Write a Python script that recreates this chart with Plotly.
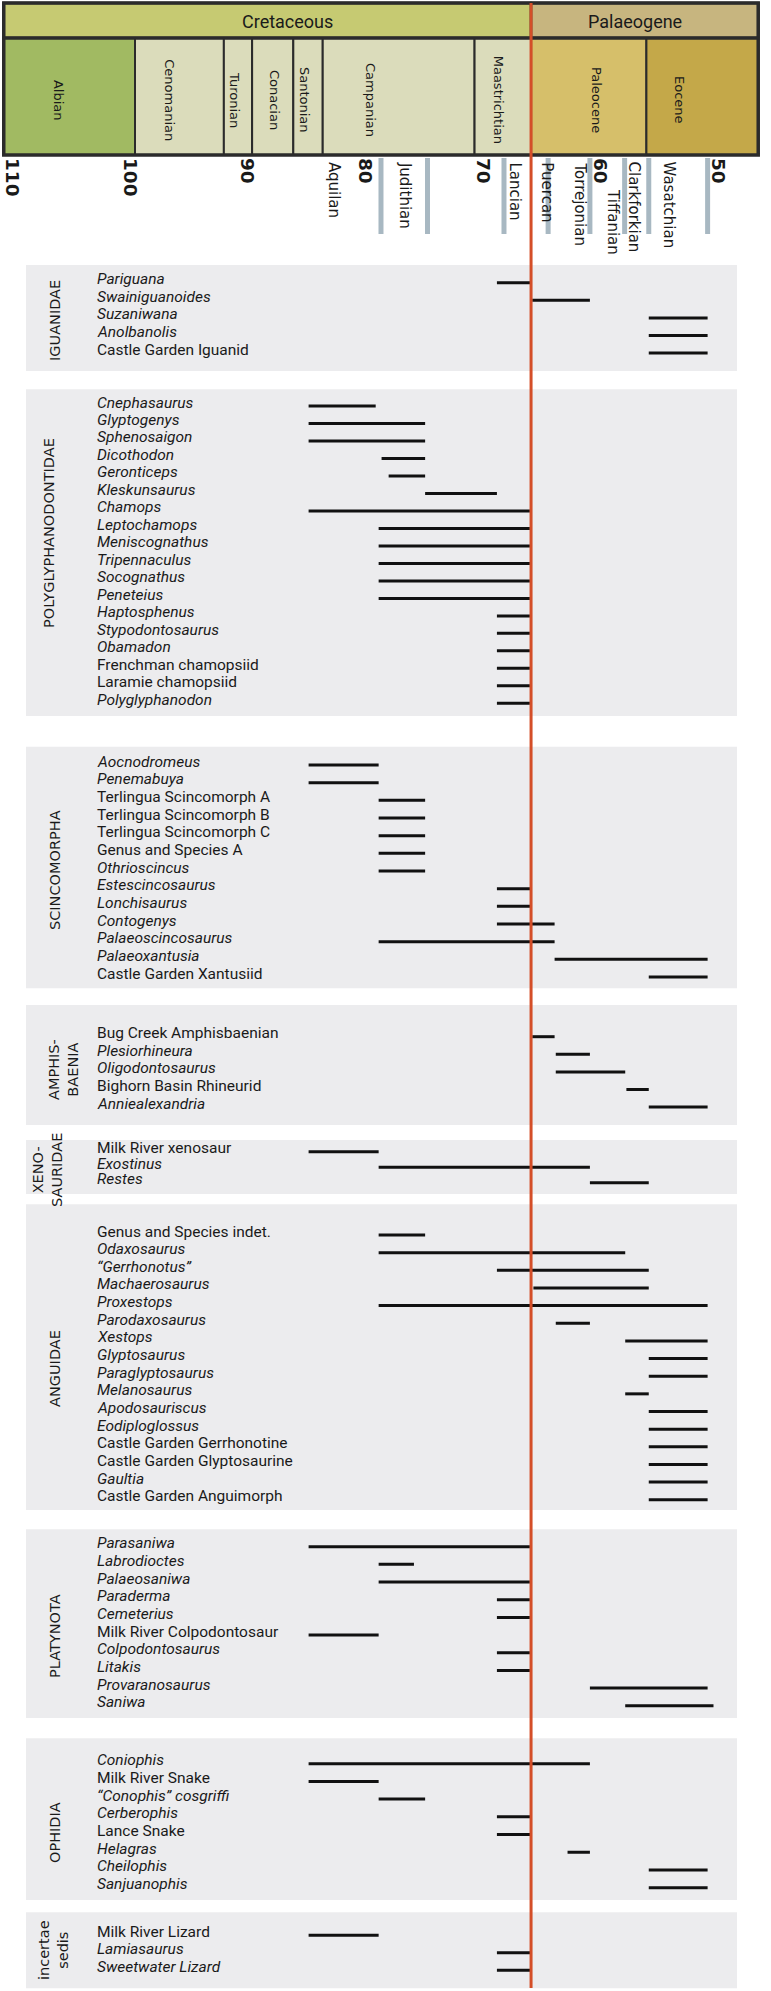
import plotly.graph_objects as go

W, H = 771, 1991

# ---------------- data ----------------
tick_values = [110, 100, 90, 80, 70, 60, 50]
tick_labels = ["110", "100", "90", "80", "70", "60", "50"]

period_names = ["Cretaceous", "Palaeogene"]
period_start = [110.7, 65.9]
period_end = [65.9, 46.6]
period_label_ma = [86.6, 57.1]

stage_names = ["Albian", "Cenomanian", "Turonian", "Conacian", "Santonian",
               "Campanian", "Maastrichtian", "Paleocene", "Eocene"]
stage_start = [110.7, 99.55, 92.0, 89.6, 86.1, 83.6, 70.7, 65.9, 56.1]
stage_end = [99.55, 92.0, 89.6, 86.1, 83.6, 70.7, 65.9, 56.1, 46.6]
stage_label_ma = [106.0, 96.6, 91.05, 87.65, 85.1, 79.5, 68.6, 60.3, 53.25]

nalma_names = ["Aquilan", "Judithian", "Lancian", "Puercan", "Torrejonian",
               "Tiffanian", "Clarkforkian", "Wasatchian"]
nalma_label_ma = [82.64, 76.56, 67.3, 64.57, 61.74, 58.94, 57.07, 54.1]
nalma_bar_ma = [78.65, 74.7, 68.2, 64.45, 60.9, 57.95, 55.9, 50.9]

kpg_ma = 65.9

group_names = ["IGUANIDAE", "POLYGLYPHANODONTIDAE", "SCINCOMORPHA", "AMPHIS-<br>BAENIA",
               "XENO-<br>SAURIDAE", "ANGUIDAE", "PLATYNOTA", "OPHIDIA", "incertae<br>sedis"]

iguanidae_taxa = ["Pariguana", "Swainiguanoides", "Suzaniwana", "Anolbanolis", "Castle Garden Iguanid"]
iguanidae_italic = [1, 1, 1, 1, 0]
iguanidae_first = [68.8, 65.8, 55.9, 55.9, 55.9]
iguanidae_last = [65.9, 60.9, 50.9, 50.9, 50.9]

polyglyph_taxa = ["Cnephasaurus", "Glyptogenys", "Sphenosaigon", "Dicothodon", "Geronticeps",
                  "Kleskunsaurus", "Chamops", "Leptochamops", "Meniscognathus", "Tripennaculus",
                  "Socognathus", "Peneteius", "Haptosphenus", "Stypodontosaurus", "Obamadon",
                  "Frenchman chamopsiid", "Laramie chamopsiid", "Polyglyphanodon"]
polyglyph_italic = [1, 1, 1, 1, 1, 1, 1, 1, 1, 1, 1, 1, 1, 1, 1, 0, 0, 1]
polyglyph_first = [84.8, 84.8, 84.8, 78.6, 78.0, 74.9, 84.8, 78.85, 78.85, 78.85,
                   78.85, 78.85, 68.8, 68.8, 68.8, 68.8, 68.8, 68.8]
polyglyph_last = [79.1, 74.9, 74.9, 74.9, 74.9, 68.8, 66.0, 66.0, 66.0, 66.0,
                  66.0, 66.0, 66.0, 66.0, 66.0, 66.0, 66.0, 66.0]

scinco_taxa = ["Aocnodromeus", "Penemabuya", "Terlingua Scincomorph A", "Terlingua Scincomorph B",
               "Terlingua Scincomorph C", "Genus and Species A", "Othrioscincus", "Estescincosaurus",
               "Lonchisaurus", "Contogenys", "Palaeoscincosaurus", "Palaeoxantusia",
               "Castle Garden Xantusiid"]
scinco_italic = [1, 1, 0, 0, 0, 0, 1, 1, 1, 1, 1, 1, 0]
scinco_first = [84.8, 84.8, 78.85, 78.85, 78.85, 78.85, 78.85, 68.8, 68.8, 68.8, 78.85, 63.9, 55.9]
scinco_last = [78.85, 78.85, 74.9, 74.9, 74.9, 74.9, 74.9, 65.9, 65.9, 63.9, 63.9, 50.9, 50.9]

amphis_taxa = ["Bug Creek Amphisbaenian", "Plesiorhineura", "Oligodontosaurus",
               "Bighorn Basin Rhineurid", "Anniealexandria"]
amphis_italic = [0, 1, 1, 0, 1]
amphis_first = [65.8, 63.8, 63.8, 57.8, 55.9]
amphis_last = [63.9, 60.9, 57.9, 55.9, 50.9]

xeno_taxa = ["Milk River xenosaur", "Exostinus", "Restes"]
xeno_italic = [0, 1, 1]
xeno_first = [84.8, 78.85, 60.9]
xeno_last = [78.85, 60.9, 55.9]

anguid_taxa = ["Genus and Species indet.", "Odaxosaurus", "\u201cGerrhonotus\u201d", "Machaerosaurus",
               "Proxestops", "Parodaxosaurus", "Xestops", "Glyptosaurus", "Paraglyptosaurus",
               "Melanosaurus", "Apodosauriscus", "Eodiploglossus", "Castle Garden Gerrhonotine",
               "Castle Garden Glyptosaurine", "Gaultia", "Castle Garden Anguimorph"]
anguid_italic = [0, 1, 1, 1, 1, 1, 1, 1, 1, 1, 1, 1, 0, 0, 1, 0]
anguid_first = [78.85, 78.85, 68.8, 65.7, 78.85, 63.8, 57.9, 55.9, 55.9, 57.9,
                55.9, 55.9, 55.9, 55.9, 55.9, 55.9]
anguid_last = [74.9, 57.9, 55.9, 55.9, 50.9, 60.9, 50.9, 50.9, 50.9, 55.9,
               50.9, 50.9, 50.9, 50.9, 50.9, 50.9]

platy_taxa = ["Parasaniwa", "Labrodioctes", "Palaeosaniwa", "Paraderma", "Cemeterius",
              "Milk River Colpodontosaur", "Colpodontosaurus", "Litakis", "Provaranosaurus", "Saniwa"]
platy_italic = [1, 1, 1, 1, 1, 0, 1, 1, 1, 1]
platy_first = [84.8, 78.85, 78.85, 68.8, 68.8, 84.8, 68.8, 68.8, 60.9, 57.9]
platy_last = [66.0, 75.85, 66.0, 66.0, 66.0, 78.85, 66.0, 66.0, 50.9, 50.4]

ophidia_taxa = ["Coniophis", "Milk River Snake", "\u201cConophis\u201d cosgriffi", "Cerberophis",
                "Lance Snake", "Helagras", "Cheilophis", "Sanjuanophis"]
ophidia_italic = [1, 0, 1, 1, 0, 1, 1, 1]
ophidia_first = [84.8, 84.8, 78.85, 68.8, 68.8, 62.8, 55.9, 55.9]
ophidia_last = [60.9, 78.85, 74.9, 65.9, 65.9, 60.9, 50.9, 50.9]

incertae_taxa = ["Milk River Lizard", "Lamiasaurus", "Sweetwater Lizard"]
incertae_italic = [0, 1, 1]
incertae_first = [84.8, 68.8, 68.8]
incertae_last = [78.85, 65.9, 65.9]

groups = [
    (iguanidae_taxa, iguanidae_italic, iguanidae_first, iguanidae_last),
    (polyglyph_taxa, polyglyph_italic, polyglyph_first, polyglyph_last),
    (scinco_taxa, scinco_italic, scinco_first, scinco_last),
    (amphis_taxa, amphis_italic, amphis_first, amphis_last),
    (xeno_taxa, xeno_italic, xeno_first, xeno_last),
    (anguid_taxa, anguid_italic, anguid_first, anguid_last),
    (platy_taxa, platy_italic, platy_first, platy_last),
    (ophidia_taxa, ophidia_italic, ophidia_first, ophidia_last),
    (incertae_taxa, incertae_italic, incertae_first, incertae_last),
]

# ---------------- layout (pixel positions on the page) ----------------
group_layout = [
    dict(box=(265, 371), row0=282.7, step=17.6, label=(55, 321)),
    dict(box=(389.3, 716), row0=406.0, step=17.49, label=(49, 533)),
    dict(box=(746.7, 988.3), row0=765.0, step=17.67, label=(55, 870)),
    dict(box=(1005, 1125), row0=1036.7, step=17.6, label=(63, 1070)),
    dict(box=(1140, 1194), row0=1151.7, step=15.5, label=(47, 1170)),
    dict(box=(1204.3, 1510), row0=1235.0, step=17.65, label=(55, 1369)),
    dict(box=(1529.3, 1718), row0=1546.7, step=17.67, label=(55, 1636)),
    dict(box=(1738.3, 1900), row0=1763.7, step=17.71, label=(55, 1833)),
    dict(box=(1912.3, 1988.3), row0=1935.3, step=17.5, label=(53, 1950)),
]

PX0, PX_PER_MA = 12.0, 11.77          # x pixel of 110 Ma, pixels per Myr
x_left = 110 + PX0 / PX_PER_MA
x_right = 110 - (W - PX0) / PX_PER_MA

period_colors = ["#c6ca72", "#c7b57f"]
stage_colors = ["#a1ba62", "#dbdcbb", "#dbdcbb", "#dbdcbb", "#dbdcbb", "#dbdcbb", "#dbdcbb",
                "#d6bf6a", "#c4a849"]
BORDER = "#2b2b2b"
RED = "#d44e28"
BOX = "#ececee"
NALMA_GREY = "#a8b8c2"
TXT = "#1a1a1a"
TAXON_FONT = "Roboto"
SANS = "DejaVu Sans"

fig = go.Figure()
shapes, annotations = [], []

# group background boxes and labels
for (taxa, ital, first, last), lay, gname in zip(groups, group_layout, group_names):
    shapes.append(dict(type="rect", xref="paper", yref="y", x0=26 / W, x1=737 / W,
                       y0=lay["box"][0], y1=lay["box"][1], fillcolor=BOX,
                       line=dict(width=0), layer="below"))
    lx, ly = lay["label"]
    annotations.append(dict(xref="paper", yref="y", x=lx / W, y=ly, text=gname,
                            textangle=-90, showarrow=False, xanchor="center", yanchor="middle",
                            font=dict(family=SANS, size=14.5, color=TXT)))

# bars and taxon names
bx, by = [], []
for (taxa, ital, first, last), lay in zip(groups, group_layout):
    for i, (name, it, s, e) in enumerate(zip(taxa, ital, first, last)):
        yrow = lay["row0"] + i * lay["step"]
        bx += [s, e, None]
        by += [yrow, yrow, None]
        annotations.append(dict(xref="paper", yref="y", x=95 / W, y=yrow - 3.5,
                                text=f"<i>{name}</i>" if it else name, showarrow=False,
                                xanchor="left", yanchor="middle",
                                font=dict(family=TAXON_FONT, size=15.5, color=TXT)))

fig.add_trace(go.Scatter(x=bx, y=by, mode="lines", line=dict(color="#111111", width=3),
                         hoverinfo="skip", showlegend=False))

# header: periods
for name, s, e, lm, col in zip(period_names, period_start, period_end, period_label_ma, period_colors):
    shapes.append(dict(type="rect", xref="x", yref="y", x0=s, x1=e, y0=3, y1=38,
                       fillcolor=col, line=dict(color=BORDER, width=2.5), layer="above"))
    annotations.append(dict(xref="x", yref="y", x=lm, y=21, text=name, showarrow=False,
                            xanchor="center", yanchor="middle",
                            font=dict(family=TAXON_FONT, size=18, color=TXT)))
# header: stages
for name, s, e, lm, col in zip(stage_names, stage_start, stage_end, stage_label_ma, stage_colors):
    shapes.append(dict(type="rect", xref="x", yref="y", x0=s, x1=e, y0=38, y1=155,
                       fillcolor=col, line=dict(color=BORDER, width=2), layer="above"))
    annotations.append(dict(xref="x", yref="y", x=lm, y=100, text=name, showarrow=False,
                            textangle=90, xanchor="center", yanchor="middle",
                            font=dict(family=SANS, size=13, color=TXT)))
shapes.append(dict(type="rect", xref="x", yref="y", x0=period_start[0], x1=period_end[-1],
                   y0=3, y1=155, line=dict(color=BORDER, width=3.5), layer="above"))
shapes.append(dict(type="line", xref="x", yref="y", x0=period_start[0], x1=period_end[-1],
                   y0=38, y1=38, line=dict(color=BORDER, width=3.5), layer="above"))

# NALMA grey markers and labels
for m in nalma_bar_ma:
    shapes.append(dict(type="line", xref="x", yref="y", x0=m, x1=m, y0=158, y1=234,
                       line=dict(color=NALMA_GREY, width=5), layer="above"))
nalma_top = {"Tiffanian": 187}
for name, lm in zip(nalma_names, nalma_label_ma):
    annotations.append(dict(xref="x", yref="y", x=lm, y=nalma_top.get(name, 160), text=name,
                            showarrow=False, textangle=90, xanchor="center", yanchor="top",
                            font=dict(family=SANS, size=15, color=TXT)))

# K/Pg boundary
shapes.append(dict(type="line", xref="x", yref="y", x0=kpg_ma, x1=kpg_ma, y0=3, y1=1988,
                   line=dict(color=RED, width=3), layer="above"))

fig.update_layout(
    width=W, height=H, margin=dict(l=0, r=0, t=0, b=0),
    paper_bgcolor="white", plot_bgcolor="white", template="none",
    shapes=shapes, annotations=annotations, showlegend=False,
    xaxis=dict(range=[x_left, x_right], domain=[0, 1], anchor="free", position=1 - 157 / H,
               side="bottom", tickvals=tick_values, ticktext=tick_labels, tickangle=90,
               ticks="", showline=False, showgrid=False, zeroline=False, automargin=False,
               tickfont=dict(family=SANS, size=18.5, color=TXT, weight="bold"),
               fixedrange=True),
    yaxis=dict(range=[H, 0], domain=[0, 1], visible=False, fixedrange=True, automargin=False),
)

fig.write_html("out.html", config={"displayModeBar": False},
               post_script="document.body.style.margin='0px';document.body.style.padding='0px';")
